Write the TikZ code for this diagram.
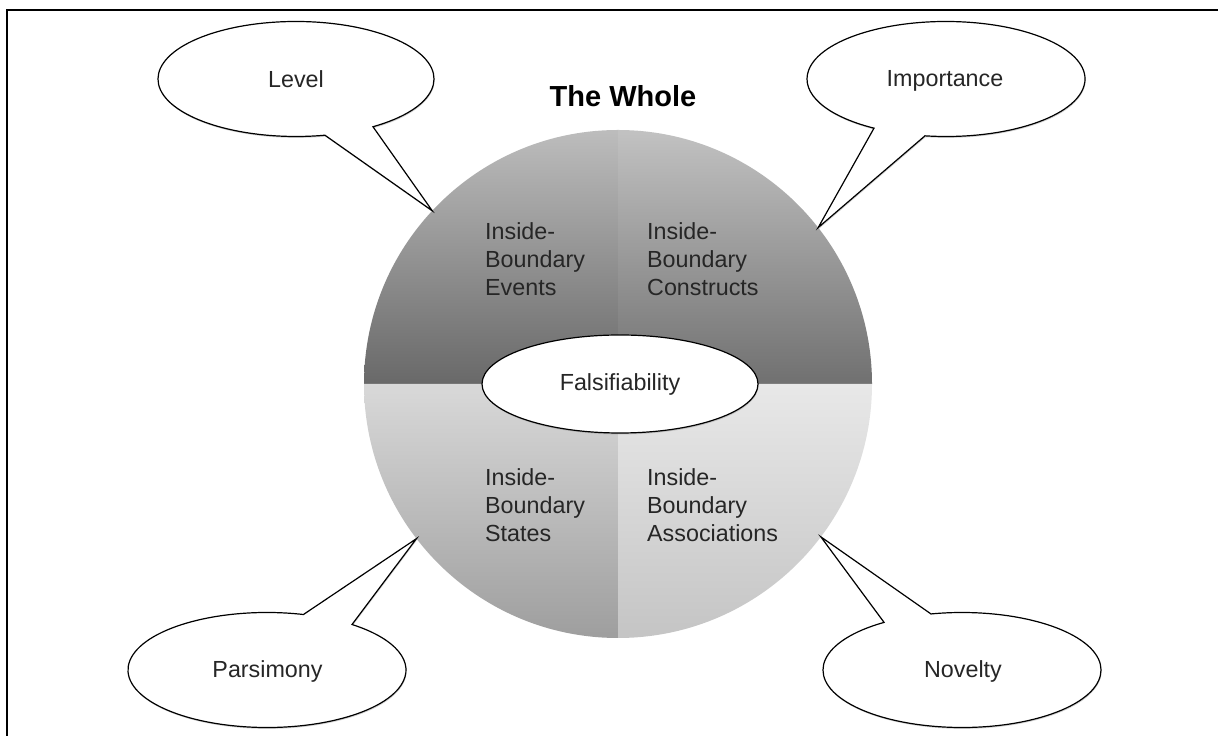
\documentclass[tikz,border=0pt]{standalone}
\usepackage{fontspec}
\setmainfont{Liberation Sans}
\usetikzlibrary{shapes.geometric,shadows,calc}
\definecolor{tlTop}{gray}{0.74}
\definecolor{tlBot}{gray}{0.41}
\definecolor{trTop}{gray}{0.76}
\definecolor{trBot}{gray}{0.44}
\definecolor{blTop}{gray}{0.85}
\definecolor{blBot}{gray}{0.62}
\definecolor{brTop}{gray}{0.91}
\definecolor{brBot}{gray}{0.77}
\tikzset{
  callout/.style={draw=black, fill=white, line width=1.2pt, line join=miter,
    drop shadow={shadow xshift=0.6pt, shadow yshift=-1.4pt, opacity=0.35}},
  lbl/.style={font=\fontsize{23.3}{28}\selectfont, inner sep=0pt, text=black!85},
  quadtext/.style={font=\fontsize{23.3}{28}\selectfont, inner sep=0pt, align=left, anchor=north west, text=black!85},
}
\begin{document}
\begin{tikzpicture}[x=1pt,y=1pt]
\useasboundingbox (0,0) rectangle (1218,736);
% frame (top and left edges only)
\draw[line width=2.5pt] (7,-2) -- (7,726) -- (1220,726);
% circle centre
\coordinate (C) at (618,352);
% quadrants
\shade[top color=tlTop, bottom color=tlBot] (C) -- ++(180:254pt) arc[start angle=180, end angle=90, radius=254pt] -- cycle;
\shade[top color=trTop, bottom color=trBot] (C) -- ++(90:254pt) arc[start angle=90, end angle=0, radius=254pt] -- cycle;
\shade[top color=blTop, bottom color=blBot] (C) -- ++(180:254pt) arc[start angle=180, end angle=270, radius=254pt] -- cycle;
\shade[top color=brTop, bottom color=brBot] (C) -- ++(270:254pt) arc[start angle=270, end angle=360, radius=254pt] -- cycle;
% title
\node[font=\bfseries\fontsize{29}{34}\selectfont, anchor=base, inner sep=0pt] (title) at (623,629) {The Whole};
% quadrant texts
\node[quadtext] (events) at (485,514) {Inside-\\Boundary\\Events};
\node[quadtext] (constructs) at (647,514) {Inside-\\Boundary\\Constructs};
\node[quadtext] (states) at (485,268) {Inside-\\Boundary\\States};
\node[quadtext] (assoc) at (647,268) {Inside-\\Boundary\\Associations};
% centre ellipse
\node[ellipse, draw=black, fill=white, line width=1.2pt, minimum width=276pt, minimum height=98pt, inner sep=0pt,
  drop shadow={shadow xshift=0.6pt, shadow yshift=-1.4pt, opacity=0.35},
  font=\fontsize{23.3}{28}\selectfont, text=black!85] (fals) at (620,352) {Falsifiability};
% callout tips on the circle
\coordinate (Ltip) at ($(C)+(137:254pt)$);
\coordinate (Itip) at ($(C)+(38:254pt)$);
\coordinate (Ptip) at ($(C)+(217.5:254pt)$);
\coordinate (Ntip) at ($(C)+(-37:254pt)$);
% callout centres
\coordinate (Lc) at (296,657);
\coordinate (Ic) at (946,657);
\coordinate (Pc) at (267,66);
\coordinate (Nc) at (962,66);
% callouts
\path[callout] (Lc) ++(-56.1:138pt and 57.5pt) arc[start angle=-56.1, end angle=282.1, x radius=138pt, y radius=57.5pt] -- (Ltip) -- cycle;
\path[callout] (Ic) ++(-98.7:139pt and 57.5pt) arc[start angle=-98.7, end angle=238.8, x radius=139pt, y radius=57.5pt] -- (Itip) -- cycle;
\path[callout] (Pc) ++(74.8:139pt and 57.5pt) arc[start angle=74.8, end angle=412.3, x radius=139pt, y radius=57.5pt] -- (Ptip) -- cycle;
\path[callout] (Nc) ++(124.1:139pt and 57.5pt) arc[start angle=124.1, end angle=462.9, x radius=139pt, y radius=57.5pt] -- (Ntip) -- cycle;
% callout texts
\node[lbl, anchor=base] (level) at (296,648) {Level};
\node[lbl, anchor=base] (importance) at (945,649) {Importance};
\node[lbl, anchor=base] (parsimony) at (267.5,58) {Parsimony};
\node[lbl, anchor=base] (novelty) at (963,58) {Novelty};
\end{tikzpicture}
\end{document}
